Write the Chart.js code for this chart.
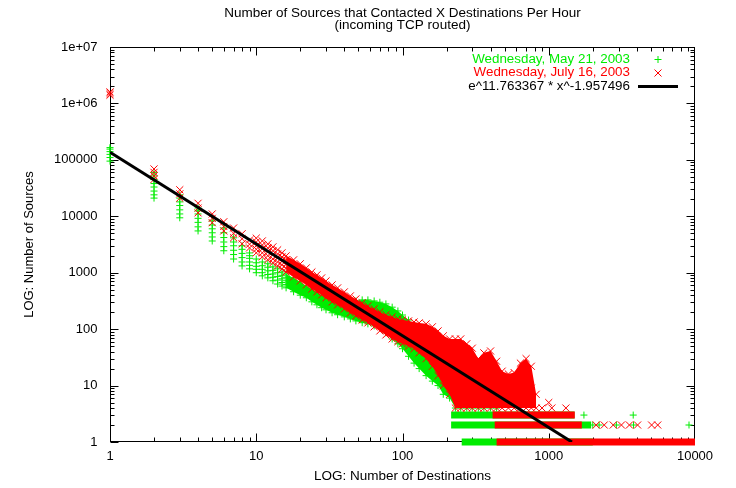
<!DOCTYPE html>
<html>
<head>
<meta charset="utf-8">
<script src="https://cdn.jsdelivr.net/npm/chart.js@4/dist/chart.umd.min.js"></script>
<style>
html,body{margin:0;padding:0;background:#fff;}
#wrap{width:736px;height:488px;}
</style>
</head>
<body>
<div id="wrap"><canvas id="c" width="736" height="488"></canvas></div>
<script>
// ---------- text ----------
const titleLines = ['Number of Sources that Contacted X Destinations Per Hour', '(incoming TCP routed)'];
const xAxisTitle = 'LOG: Number of Destinations';
const yAxisTitle = 'LOG: Number of Sources';
const seriesNames = ['Wednesday, May 21, 2003', 'Wednesday, July 16, 2003', 'e^11.763367 * x^-1.957496'];

// ---------- ticks ----------
const xTickValues = [1, 10, 100, 1000, 10000];
const xTickLabels = ['1', '10', '100', '1000', '10000'];
const yTickValues = [1, 10, 100, 1000, 10000, 100000, 1000000, 10000000];
const yTickLabels = ['1', '10', '100', '1000', '10000', '100000', '1e+06', '1e+07'];

// ---------- May 21 (green +): columns of hourly counts ----------
const mayX = [1,2,3,4,5,6,7,8,9,10,11,12,13,14,15,16,18,20,22,24,26,28,30,33,36,40,44,48,53,58,64,70,77,85,93,100,110,120,130,145,160,175,190,210,230,250,275,300,330,360,400,440];
const mayY = [
 [95000,110000,125000,140000,155000,165000],
 [21000,24000,28000,33000,38000,45000,52000,60000],
 [9400,11000,13000,15500,18000,21000,24000],
 [5500,6500,7800,9200,11000,12500,14000],
 [3650,4300,5100,6000,7000,8300],
 [2450,2900,3500,4200,5100,6200],
 [1750,2100,2500,3000,3500,4150],
 [1320,1550,1850,2200,2600,3000],
 [1170,1350,1550,1800,2000,2240],
 [1000,1150,1300,1500,1750],[880,1000,1150,1330,1550],[810,930,1080,1250,1440],
 [720,830,950,1100,1270],[630,740,860,1000,1170],[580,670,780,900,1030],[540,620,720,830,950],
 [460,610,810],[400,530,690],[360,460,580],
 [305,400,515],[270,350,455],[240,310,400],[220,285,370],[195,260,340],
 [180,240,315],[165,225,305],[152,215,305],[140,210,315],[130,205,330],
 [124,200,330],[114,190,316],[105,175,300],[86,150,280],[67,125,245],
 [55,105,210],[45,90,178],[33,70,145],[25,55,118],[20,45,100],
 [15,35,82],[12,28,67],[10,22,55],[7,17,41],[6,13,30],
 [4,8,15],[4,6,10],[4,6,9],[4,6,9],[4,6,9],[4,6,9],[4,6,9],[4,6,9]
];
const mayRowY = [1, 2, 3];
const mayRowFrom = [254, 215, 215];
const mayRowTo = [2000, 1950, 1500];
const mayExtraX = [1740, 3780, 2000, 2210, 2900, 3800, 9100];
const mayExtraY = [3, 3, 2, 2, 2, 2, 2];

// ---------- July 16 (red x) ----------
const julyX = [1,2,3,4,5,6,7,8,9,10,11,12,13,14,15,16,18,20,22,24,26,28,30,33,36,40,44,48,53,58,64,70,77,85,93,100,110,120,130,145,160,175,190,210,230,250,275,300,330,360,400,440,480,530,580,640,700,760,820];
const julyY = [
 [1400000,1500000,1600000],
 [45000,52000,60000,69000],
 [21000,25000,29500],
 [11500,14000,17000],
 [7700,9200,11000],
 [5500,6600,8000],
 [4150,5000,6200],
 [3250,4000,4900],
 [2750,3200,3800],
 [2250,2600,3000,3500,4100],[1910,2250,2650,3100,3660],[1700,2000,2350,2750,3240],
 [1500,1750,2100,2450,2870],[1320,1550,1850,2150,2540],[1170,1380,1620,1900,2250],[1030,1200,1440,1700,1990],
 [840,1200,1690],[715,1020,1440],[610,860,1220],
 [515,730,1030],[457,650,915],[404,570,808],[358,505,716],[304,430,608],
 [269,380,538],[228,320,457],[194,275,388],[171,240,343],[146,205,292],
 [129,182,258],[110,158,228],[93,137,202],[79,120,179],[67,105,165],
 [60,95,152],[55,90,146],[50,84,140],[45,78,134],[38,70,129],
 [30,60,124],[22,50,110],[15,38,93],[10,28,76],[7,22,67],
 [4,17,67],[4,16,67],[4,15,55],[4,14,46],[4,11,30],
 [4,12,38],[4,13,41],[4,10,27],[4,8,18],[4,8,16],
 [4,8,17],[4,10,25],[4,11,30],[4,9,22],[4,7]
];
const julyRowY = [1, 2, 3];
const julyRowFrom = [440, 427, 413];
const julyRowTo = [10000, 1683, 1507];
const julyExtraX = [900, 1000, 1050, 1310, 2110, 2395, 2760, 3140, 3560, 4050, 5050, 5560];
const julyExtraY = [4, 5, 4, 4, 2, 2, 2, 2, 2, 2, 2, 2];

// ---------- fitted line (as drawn) ----------
const fitX = [1, 1440];
const fitY = [136000, 1];

// ---------- styling ----------
const FONT = "'Liberation Sans', Arial, Helvetica, sans-serif";
const GREEN = '#00ec00';
const RED = '#ff0000';
const BAND_FROM = 16;   // columns merge into a continuous cloud from here on

function flat(xs, ys) { const o = []; xs.forEach((x, i) => ys[i].forEach(y => o.push({x, y}))); return o; }
function bandEdge(xs, ys, fn) { return xs.map((x, i) => ({x, y: fn(...ys[i])})).filter(p => p.x >= BAND_FROM); }
function pairs(xs, ys) { return xs.map((x, i) => ({x, y: ys[i]})); }

const datasets = [];
function addBand(xs, ys, color, order) {
  datasets.push({type: 'line', data: bandEdge(xs, ys, Math.max), borderColor: 'rgba(0,0,0,0)', borderWidth: 0, pointRadius: 0, fill: '+1', backgroundColor: color, order});
  datasets.push({type: 'line', data: bandEdge(xs, ys, Math.min), borderColor: 'rgba(0,0,0,0)', borderWidth: 0, pointRadius: 0, fill: false, order});
}
function addPoints(data, color, style, radius, order) {
  datasets.push({type: 'line', data, showLine: false, fill: false, pointStyle: style, pointRadius: radius, pointBorderWidth: 1,
    pointBorderColor: color, pointBackgroundColor: color, borderColor: color, order, clip: false});
}
function addRows(levels, from, to, color, order) {
  levels.forEach((lv, i) => datasets.push({type: 'line', data: [{x: from[i], y: lv}, {x: to[i], y: lv}], borderColor: color,
    borderWidth: 7, borderCapStyle: 'butt', pointRadius: 0, fill: false, order, clip: false}));
}

addBand(mayX, mayY, GREEN, 20);
addPoints(flat(mayX, mayY), GREEN, 'cross', 3.5, 19);
addRows(mayRowY, mayRowFrom, mayRowTo, GREEN, 18);
addPoints(pairs(mayExtraX, mayExtraY), GREEN, 'cross', 3.5, 18);
addBand(julyX, julyY, RED, 10);
addPoints(flat(julyX, julyY), RED, 'crossRot', 5, 9);
addRows(julyRowY, julyRowFrom, julyRowTo, RED, 8);
addPoints(pairs(julyExtraX, julyExtraY), RED, 'crossRot', 5, 8);
datasets.push({type: 'line', data: pairs(fitX, fitY), borderColor: '#000', borderWidth: 3, pointRadius: 0, fill: false, order: 1});

function txt(ctx, s, x, y, align, size, sx, color) {
  ctx.save();
  ctx.translate(x, y); ctx.scale(sx, 1);
  ctx.font = size + 'px ' + FONT; ctx.textAlign = align; ctx.textBaseline = 'middle';
  ctx.fillStyle = color; ctx.fillText(s, 0, 0);
  ctx.restore();
}

const deco = {
  id: 'deco',
  beforeDatasetsDraw(chart) {
    const {ctx, chartArea: a, scales: {x, y}} = chart;
    ctx.save();
    ctx.strokeStyle = '#000'; ctx.lineWidth = 1;
    const L = Math.round(a.left) + 0.5, R = Math.round(a.right) - 0.5, T = Math.round(a.top) + 0.5, B = Math.round(a.bottom) - 0.5;
    ctx.strokeRect(L, T, R - L, B - T);
    ctx.beginPath();
    xTickValues.slice(0, -1).forEach(d => {
      for (let m = 1; m < 10; m++) {
        const px = Math.round(x.getPixelForValue(d * m)) + 0.5, len = m === 1 ? 8 : 4;
        ctx.moveTo(px, B); ctx.lineTo(px, B - len); ctx.moveTo(px, T); ctx.lineTo(px, T + len);
      }
    });
    yTickValues.slice(0, -1).forEach(d => {
      for (let m = 1; m < 10; m++) {
        const py = Math.round(y.getPixelForValue(d * m)) + 0.5, len = m === 1 ? 8 : 4;
        ctx.moveTo(L, py); ctx.lineTo(L + len, py); ctx.moveTo(R, py); ctx.lineTo(R - len, py);
      }
    });
    ctx.stroke();
    ctx.restore();
  },
  afterDraw(chart) {
    const {ctx, chartArea: a} = chart;
    const cx = (a.left + a.right) / 2;
    txt(ctx, titleLines[0], cx, 13.3, 'center', 12.5, 1.08, '#000');
    txt(ctx, titleLines[1], cx, 25.3, 'center', 12.5, 1.08, '#000');
    txt(ctx, xAxisTitle, cx, 477, 'center', 12.5, 1.08, '#000');
    ctx.save();
    ctx.translate(29, (a.top + a.bottom) / 2); ctx.rotate(-Math.PI / 2);
    ctx.font = '13px ' + FONT; ctx.textAlign = 'center'; ctx.textBaseline = 'middle'; ctx.fillStyle = '#000';
    ctx.fillText(yAxisTitle, 0, 0);
    ctx.restore();
    // legend
    const lx = 630, ys = [59.5, 73, 86.5];
    txt(ctx, seriesNames[0], lx, ys[0], 'right', 12.5, 1.07, GREEN);
    txt(ctx, seriesNames[1], lx, ys[1], 'right', 12.5, 1.07, RED);
    txt(ctx, seriesNames[2], lx, ys[2], 'right', 12.5, 1.07, '#000');
    ctx.save();
    ctx.lineWidth = 1;
    ctx.strokeStyle = GREEN; ctx.beginPath();
    ctx.moveTo(658 - 3.5, ys[0]); ctx.lineTo(658 + 3.5, ys[0]); ctx.moveTo(658, ys[0] - 3.5); ctx.lineTo(658, ys[0] + 3.5); ctx.stroke();
    ctx.strokeStyle = RED; ctx.beginPath();
    ctx.moveTo(658 - 3.5, ys[1] - 3.5); ctx.lineTo(658 + 3.5, ys[1] + 3.5); ctx.moveTo(658 + 3.5, ys[1] - 3.5); ctx.lineTo(658 - 3.5, ys[1] + 3.5); ctx.stroke();
    ctx.strokeStyle = '#000'; ctx.lineWidth = 3; ctx.beginPath();
    ctx.moveTo(638, ys[2]); ctx.lineTo(678, ys[2]); ctx.stroke();
    ctx.restore();
  }
};

new Chart(document.getElementById('c'), {
  type: 'line',
  data: {datasets},
  options: {
    responsive: false,
    animation: false,
    devicePixelRatio: 1,
    events: [],
    layout: {padding: {left: 0, right: 41, top: 47, bottom: 0}},
    plugins: {legend: {display: false}, title: {display: false}, tooltip: {enabled: false}},
    scales: {
      x: {
        type: 'logarithmic', min: 1, max: 10000, position: 'bottom',
        grid: {display: false, drawTicks: false}, border: {display: false},
        afterBuildTicks: s => { s.ticks = xTickValues.map(v => ({value: v})); },
        afterFit: s => { s.height = 46; },
        ticks: {autoSkip: false, maxRotation: 0, padding: 7, color: '#000', font: {family: FONT, size: 13},
          callback: v => { const i = xTickValues.indexOf(v); return i >= 0 ? xTickLabels[i] : ''; }}
      },
      y: {
        type: 'logarithmic', min: 1, max: 10000000,
        grid: {display: false, drawTicks: false}, border: {display: false},
        afterBuildTicks: s => { s.ticks = yTickValues.map(v => ({value: v})); },
        afterFit: s => { s.width = 110; },
        ticks: {autoSkip: false, padding: 12.5, color: '#000', font: {family: FONT, size: 13},
          callback: v => { const i = yTickValues.indexOf(v); return i >= 0 ? yTickLabels[i] : ''; }}
      }
    }
  },
  plugins: [deco]
});
</script>
</body>
</html>
